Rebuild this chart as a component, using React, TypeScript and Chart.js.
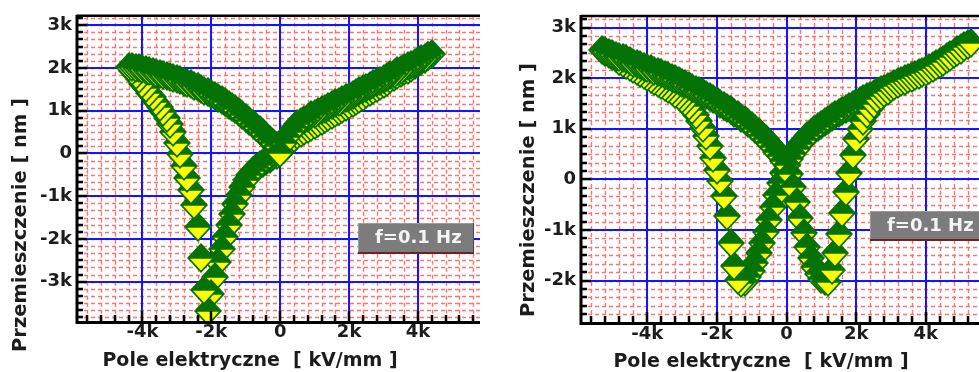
import React, { useEffect, useRef } from 'react';
import { Chart, registerables } from 'chart.js';

Chart.register(...registerables);

// ---------------- DATA (field E and displacement S, both in "k" units) ----------------
// Left panel: one measured loop, in acquisition order (branches A..E)
const L_A_E = [-0.1, -0.2, -0.3, -0.4, -0.5, -0.6, -0.7, -0.8, -0.9, -1.0, -1.1, -1.2, -1.3, -1.4, -1.5, -1.6, -1.7, -1.8, -1.9, -2.0, -2.1];
const L_A_S = [-0.03, -0.07, -0.12, -0.17, -0.22, -0.27, -0.33, -0.41, -0.50, -0.62, -0.79, -0.98, -1.19, -1.42, -1.68, -1.95, -2.24, -2.54, -2.88, -3.28, -3.68];

const L_B_E = [-2.2, -2.3, -2.4, -2.5, -2.6, -2.7, -2.8, -2.9, -3.0, -3.1, -3.2, -3.3, -3.4, -3.5, -3.6, -3.7, -3.8, -3.9, -4.0, -4.1, -4.2, -4.3, -4.4];
const L_B_S = [-3.20, -2.45, -1.72, -1.20, -0.85, -0.57, -0.30, -0.02, 0.25, 0.50, 0.68, 0.83, 0.97, 1.09, 1.20, 1.31, 1.42, 1.52, 1.63, 1.74, 1.84, 1.94, 2.03];

const L_C_E = [-4.3, -4.2, -4.1, -4.0, -3.9, -3.8, -3.7, -3.6, -3.5, -3.4, -3.3, -3.2, -3.1, -3.0, -2.9, -2.8, -2.7, -2.6, -2.5, -2.4, -2.3, -2.2, -2.1, -2.0, -1.9, -1.8, -1.7, -1.6, -1.5, -1.4, -1.3, -1.2, -1.1, -1.0, -0.9, -0.8, -0.7, -0.6, -0.5, -0.4, -0.3, -0.2, -0.1];
const L_C_S = [2.03, 2.01, 1.99, 1.97, 1.95, 1.93, 1.91, 1.88, 1.86, 1.84, 1.81, 1.79, 1.76, 1.74, 1.71, 1.68, 1.65, 1.62, 1.58, 1.55, 1.51, 1.47, 1.43, 1.39, 1.34, 1.30, 1.25, 1.20, 1.14, 1.09, 1.03, 0.97, 0.90, 0.84, 0.77, 0.70, 0.62, 0.55, 0.47, 0.39, 0.31, 0.24, 0.17];

// rising field, lower right branch
const L_D_E = [0.0, 0.1, 0.2, 0.3, 0.4, 0.5, 0.6, 0.7, 0.8, 0.9, 1.0, 1.1, 1.2, 1.3, 1.4, 1.5, 1.6, 1.7, 1.8, 1.9, 2.0, 2.1, 2.2, 2.3, 2.4, 2.5, 2.6, 2.7, 2.8, 2.9, 3.0, 3.1, 3.2, 3.3, 3.4, 3.5, 3.6, 3.7, 3.8, 3.9, 4.0, 4.1, 4.2, 4.3];
const L_D_S = [0.06, 0.11, 0.21, 0.30, 0.37, 0.43, 0.48, 0.53, 0.58, 0.62, 0.67, 0.72, 0.76, 0.81, 0.85, 0.90, 0.94, 0.99, 1.04, 1.09, 1.13, 1.18, 1.23, 1.28, 1.33, 1.38, 1.43, 1.48, 1.53, 1.58, 1.63, 1.68, 1.73, 1.78, 1.83, 1.88, 1.92, 1.96, 2.01, 2.06, 2.11, 2.16, 2.21, 2.27];

// falling field, upper right branch
const L_E_E = [4.4, 4.3, 4.2, 4.1, 4.0, 3.9, 3.8, 3.7, 3.6, 3.5, 3.4, 3.3, 3.2, 3.1, 3.0, 2.9, 2.8, 2.7, 2.6, 2.5, 2.4, 2.3, 2.2, 2.1, 2.0, 1.9, 1.8, 1.7, 1.6, 1.5, 1.4, 1.3, 1.2, 1.1, 1.0, 0.9, 0.8, 0.7, 0.6, 0.5, 0.4, 0.3, 0.2, 0.1, 0.0];
const L_E_S = [2.32, 2.28, 2.24, 2.20, 2.16, 2.12, 2.08, 2.04, 2.00, 1.96, 1.92, 1.87, 1.83, 1.78, 1.74, 1.70, 1.66, 1.62, 1.58, 1.54, 1.50, 1.46, 1.42, 1.37, 1.33, 1.29, 1.25, 1.21, 1.17, 1.13, 1.09, 1.05, 1.01, 0.97, 0.93, 0.89, 0.84, 0.79, 0.74, 0.68, 0.60, 0.50, 0.38, 0.25, 0.02];

// Right panel: one measured loop, starting at the positive field maximum
// falling field, upper right branch
const R_F_E = [5.2, 5.1, 5.0, 4.9, 4.8, 4.7, 4.6, 4.5, 4.4, 4.3, 4.2, 4.1, 4.0, 3.9, 3.8, 3.7, 3.6, 3.5, 3.4, 3.3, 3.2, 3.1, 3.0, 2.9, 2.8, 2.7, 2.6, 2.5, 2.4, 2.3, 2.2, 2.1, 2.0, 1.9, 1.8, 1.7, 1.6, 1.5, 1.4, 1.3, 1.2, 1.1, 1.0, 0.9, 0.8, 0.7, 0.6, 0.5, 0.4, 0.3, 0.2, 0.1, 0.0];
const R_F_S = [2.68, 2.64, 2.59, 2.55, 2.50, 2.45, 2.41, 2.36, 2.32, 2.28, 2.24, 2.20, 2.16, 2.13, 2.10, 2.07, 2.04, 2.01, 1.98, 1.95, 1.92, 1.89, 1.85, 1.82, 1.79, 1.76, 1.72, 1.69, 1.65, 1.62, 1.58, 1.55, 1.51, 1.47, 1.43, 1.39, 1.35, 1.31, 1.27, 1.23, 1.18, 1.13, 1.08, 1.03, 0.97, 0.91, 0.85, 0.78, 0.69, 0.60, 0.50, 0.40, 0.28];

const R_A_E = [-0.1, -0.2, -0.3, -0.4, -0.5, -0.6, -0.7, -0.8, -0.9, -1.0, -1.1, -1.2, -1.3];
const R_A_S = [0.12, -0.07, -0.30, -0.55, -0.80, -1.04, -1.26, -1.46, -1.65, -1.82, -1.94, -2.02, -2.05];

const R_B_E = [-1.4, -1.5, -1.6, -1.7, -1.8, -1.9, -2.0, -2.1, -2.2, -2.3, -2.4, -2.5, -2.6, -2.7, -2.8, -2.9, -3.0, -3.1, -3.2, -3.3, -3.4, -3.5, -3.6, -3.7, -3.8, -3.9, -4.0, -4.1, -4.2, -4.3, -4.4, -4.5, -4.6, -4.7, -4.8, -4.9, -5.0, -5.1, -5.2, -5.3];
const R_B_S = [-1.98, -1.72, -1.25, -0.72, -0.32, -0.03, 0.18, 0.42, 0.66, 0.86, 1.02, 1.15, 1.27, 1.37, 1.45, 1.52, 1.58, 1.64, 1.69, 1.74, 1.78, 1.83, 1.87, 1.91, 1.95, 1.99, 2.03, 2.07, 2.11, 2.15, 2.19, 2.23, 2.27, 2.31, 2.35, 2.39, 2.43, 2.47, 2.51, 2.55];

const R_C_E = [-5.2, -5.1, -5.0, -4.9, -4.8, -4.7, -4.6, -4.5, -4.4, -4.3, -4.2, -4.1, -4.0, -3.9, -3.8, -3.7, -3.6, -3.5, -3.4, -3.3, -3.2, -3.1, -3.0, -2.9, -2.8, -2.7, -2.6, -2.5, -2.4, -2.3, -2.2, -2.1, -2.0, -1.9, -1.8, -1.7, -1.6, -1.5, -1.4, -1.3, -1.2, -1.1, -1.0, -0.9, -0.8, -0.7, -0.6, -0.5, -0.4, -0.3, -0.2, -0.1, 0.0];
const R_C_S = [2.53, 2.50, 2.47, 2.44, 2.42, 2.39, 2.37, 2.34, 2.31, 2.29, 2.26, 2.23, 2.21, 2.18, 2.15, 2.13, 2.10, 2.07, 2.04, 2.01, 1.98, 1.94, 1.91, 1.88, 1.84, 1.81, 1.77, 1.74, 1.70, 1.66, 1.62, 1.58, 1.54, 1.50, 1.46, 1.42, 1.37, 1.32, 1.27, 1.22, 1.17, 1.11, 1.05, 0.99, 0.93, 0.86, 0.79, 0.72, 0.64, 0.55, 0.46, 0.37, 0.28];

const R_D_E = [0.1, 0.2, 0.3, 0.4, 0.5, 0.6, 0.7, 0.8, 0.9, 1.0, 1.1, 1.2];
const R_D_S = [0.10, -0.15, -0.45, -0.76, -1.06, -1.33, -1.55, -1.73, -1.87, -1.96, -2.01, -2.03];

const R_E_E = [1.3, 1.4, 1.5, 1.6, 1.7, 1.8, 1.9, 2.0, 2.1, 2.2, 2.3, 2.4, 2.5, 2.6, 2.7, 2.8, 2.9, 3.0, 3.1, 3.2, 3.3, 3.4, 3.5, 3.6, 3.7, 3.8, 3.9, 4.0, 4.1, 4.2, 4.3, 4.4, 4.5, 4.6, 4.7, 4.8, 4.9, 5.0, 5.1, 5.2, 5.3];
const R_E_S = [-1.80, -1.45, -1.08, -0.66, -0.25, 0.12, 0.48, 0.80, 1.00, 1.16, 1.29, 1.40, 1.50, 1.58, 1.64, 1.70, 1.75, 1.80, 1.84, 1.88, 1.92, 1.95, 1.98, 2.01, 2.04, 2.07, 2.10, 2.13, 2.17, 2.21, 2.25, 2.29, 2.33, 2.38, 2.42, 2.47, 2.52, 2.56, 2.61, 2.65, 2.70];

// Tick labels
const X_TICKS = [-4, -2, 0, 2, 4];
const Y_TICKS_LEFT = [-3, -2, -1, 0, 1, 2, 3];
const Y_TICKS_RIGHT = [-2, -1, 0, 1, 2, 3];

// Texts
const X_TITLE = 'Pole elektryczne  [ kV/mm ]';
const Y_TITLE = 'Przemieszczenie [ nm ]';
const NOTE = 'f=0.1 Hz';

// ---------------- STYLE ----------------
const GREEN = '#047204';
const YELLOW = '#ffff00';
const BLUE = '#1414ff';
const RED_MINOR = 'rgba(255,20,20,0.6)';
const INK = '#1c1c1c';
const FONT = '"DejaVu Sans", "Liberation Sans", sans-serif';

type Pt = { x: number; y: number };
const zip = (es: number[], ss: number[]): Pt[] => es.map((e, i) => ({ x: e, y: ss[i] }));

const LEFT_POINTS: Pt[] = [
  ...zip(L_A_E, L_A_S),
  ...zip(L_B_E, L_B_S),
  ...zip(L_C_E, L_C_S),
  ...zip(L_D_E, L_D_S),
  ...zip(L_E_E, L_E_S),
];
const RIGHT_POINTS: Pt[] = [
  ...zip(R_F_E, R_F_S),
  ...zip(R_A_E, R_A_S),
  ...zip(R_B_E, R_B_S),
  ...zip(R_C_E, R_C_S),
  ...zip(R_D_E, R_D_S),
  ...zip(R_E_E, R_E_S),
];

// Half-filled diamond symbol: green upper half, yellow lower half with a green rim
function makeMarker(): HTMLCanvasElement {
  const c = document.createElement('canvas');
  c.width = 28;
  c.height = 30;
  const g = c.getContext('2d')!;
  const cx = 14, cy = 15, hw = 14, hh = 15;
  const rim = 1.7, topInset = 0.8;
  const L = Math.hypot(hw, hh);
  const off = (rim * L + topInset * hw) / hh;
  const bot = hh - (rim * L) / hw;
  g.fillStyle = GREEN;
  g.beginPath();
  g.moveTo(cx, cy - hh);
  g.lineTo(cx + hw, cy);
  g.lineTo(cx, cy + hh);
  g.lineTo(cx - hw, cy);
  g.closePath();
  g.fill();
  g.fillStyle = YELLOW;
  g.beginPath();
  g.moveTo(cx - hw + off, cy + topInset);
  g.lineTo(cx + hw - off, cy + topInset);
  g.lineTo(cx, cy + bot);
  g.closePath();
  g.fill();
  return c;
}

type PanelCfg = {
  left: number;
  width: number;
  height: number;
  points: Pt[];
  xMin: number; xMax: number; yMin: number; yMax: number;
  yTicks: number[];
  padding: { left: number; top: number; right: number; bottom: number };
  yAxisWidth: number;
  xAxisHeight: number;
  xTickPad: number;
  yTickPad: number;
  yTitle: { x: number; y: number };
  xTitle: { x: number; y: number };
  box: { x: number; y: number; w: number; h: number };
};

const X_MINOR_PER_UNIT = 2.5; // every 0.4k
const Y_MINOR_PER_UNIT = 6;   // every 1/6 k

function decor(cfg: PanelCfg) {
  return {
    id: 'decor',
    beforeDatasetsDraw(chart: any) {
      const { ctx, chartArea: a } = chart;
      const xs = chart.scales.x, ys = chart.scales.y;
      ctx.save();
      ctx.beginPath();
      ctx.rect(a.left, a.top, a.right - a.left, a.bottom - a.top);
      ctx.clip();
      // minor red dashed grid
      ctx.strokeStyle = RED_MINOR;
      ctx.lineWidth = 1.4;
      ctx.setLineDash([4, 3]);
      ctx.beginPath();
      for (let i = Math.ceil(xs.min * X_MINOR_PER_UNIT); i <= Math.floor(xs.max * X_MINOR_PER_UNIT); i++) {
        const p = Math.round(xs.getPixelForValue(i / X_MINOR_PER_UNIT)) + 0.5;
        ctx.moveTo(p, a.top);
        ctx.lineTo(p, a.bottom);
      }
      for (let i = Math.ceil(ys.min * Y_MINOR_PER_UNIT); i <= Math.floor(ys.max * Y_MINOR_PER_UNIT); i++) {
        const p = Math.round(ys.getPixelForValue(i / Y_MINOR_PER_UNIT)) + 0.5;
        ctx.moveTo(a.left, p);
        ctx.lineTo(a.right, p);
      }
      ctx.stroke();
      // major blue grid
      ctx.setLineDash([]);
      ctx.strokeStyle = BLUE;
      ctx.lineWidth = 2;
      ctx.beginPath();
      X_TICKS.forEach((v) => {
        const p = Math.round(xs.getPixelForValue(v));
        ctx.moveTo(p, a.top);
        ctx.lineTo(p, a.bottom);
      });
      cfg.yTicks.forEach((v) => {
        const p = Math.round(ys.getPixelForValue(v));
        ctx.moveTo(a.left, p);
        ctx.lineTo(a.right, p);
      });
      ctx.stroke();
      ctx.restore();
      ctx.imageSmoothingEnabled = false;
    },
    afterDatasetsDraw(chart: any) {
      const { ctx, chartArea: a } = chart;
      ctx.imageSmoothingEnabled = true;
      const xs = chart.scales.x, ys = chart.scales.y;
      ctx.save();
      ctx.strokeStyle = '#000';
      ctx.lineCap = 'butt';
      // ticks pointing inward
      ctx.lineWidth = 2.5;
      ctx.beginPath();
      for (let i = Math.ceil(ys.min * Y_MINOR_PER_UNIT); i <= Math.floor(ys.max * Y_MINOR_PER_UNIT); i++) {
        const p = Math.round(ys.getPixelForValue(i / Y_MINOR_PER_UNIT));
        const len = i % Y_MINOR_PER_UNIT === 0 ? 10 : 6;
        ctx.moveTo(a.left, p);
        ctx.lineTo(a.left + len, p);
      }
      for (let i = Math.ceil(xs.min * X_MINOR_PER_UNIT); i <= Math.floor(xs.max * X_MINOR_PER_UNIT); i++) {
        const p = Math.round(xs.getPixelForValue(i / X_MINOR_PER_UNIT));
        const len = i % 5 === 0 ? 10 : 6;
        ctx.moveTo(p, a.bottom);
        ctx.lineTo(p, a.bottom - len);
      }
      ctx.stroke();
      // axis lines
      ctx.lineWidth = 3;
      ctx.beginPath();
      ctx.moveTo(a.left, a.top - 1);
      ctx.lineTo(a.left, a.bottom + 1.5);
      ctx.lineTo(a.right, a.bottom + 1.5);
      ctx.stroke();
      ctx.lineWidth = 2.5;
      ctx.beginPath();
      ctx.moveTo(a.left, a.top);
      ctx.lineTo(a.right, a.top);
      ctx.stroke();
      ctx.restore();
    },
    afterDraw(chart: any) {
      const { ctx } = chart;
      const xs = chart.scales.x, ys = chart.scales.y;
      ctx.save();
      // note box
      const bx = Math.round(xs.getPixelForValue(cfg.box.x));
      const by = Math.round(ys.getPixelForValue(cfg.box.y));
      const { w, h } = cfg.box;
      ctx.fillStyle = '#7c7c7c';
      ctx.fillRect(bx, by, w, h);
      ctx.fillStyle = '#9a9a9a';
      ctx.fillRect(bx, by, w, 1);
      ctx.fillRect(bx, by, 1, h);
      ctx.fillStyle = '#4a4a4a';
      ctx.fillRect(bx + w - 1, by, 1, h);
      ctx.fillStyle = '#6a2424';
      ctx.fillRect(bx, by + h - 2, w, 2);
      ctx.fillStyle = '#f4f4f4';
      ctx.font = `bold 18px ${FONT}`;
      ctx.textAlign = 'left';
      ctx.textBaseline = 'middle';
      ctx.fillText(NOTE, bx + 17, by + h / 2);
      // axis titles
      ctx.fillStyle = INK;
      ctx.textAlign = 'center';
      ctx.font = `bold 19px ${FONT}`;
      ctx.fillText(X_TITLE, cfg.xTitle.x, cfg.xTitle.y);
      ctx.translate(cfg.yTitle.x, cfg.yTitle.y);
      ctx.rotate(-Math.PI / 2);
      ctx.font = `bold 19.5px ${FONT}`;
      ctx.fillText(Y_TITLE, 0, 0);
      ctx.restore();
    },
  };
}

const fmt = (v: number | string) => {
  const n = Number(v);
  return n === 0 ? '0' : `${n}k`;
};

function Panel({ cfg }: { cfg: PanelCfg }) {
  const ref = useRef<HTMLCanvasElement>(null);
  useEffect(() => {
    const marker = makeMarker();
    const tickFont = { family: FONT, size: 18, weight: 'bold' as const };
    const chart = new Chart(ref.current!, {
      type: 'scatter',
      data: {
        datasets: [
          {
            data: cfg.points,
            pointStyle: marker as any,
            pointRadius: 8,
            showLine: false,
          },
        ],
      },
      options: {
        responsive: false,
        animation: false,
        events: [],
        layout: { padding: cfg.padding },
        plugins: { legend: { display: false }, tooltip: { enabled: false } },
        scales: {
          x: {
            type: 'linear',
            min: cfg.xMin,
            max: cfg.xMax,
            afterBuildTicks: (s: any) => {
              s.ticks = X_TICKS.map((v) => ({ value: v }));
            },
            afterFit: (s: any) => {
              s.height = cfg.xAxisHeight;
            },
            grid: { display: false, drawTicks: false },
            border: { display: false },
            ticks: { font: tickFont, color: INK, padding: cfg.xTickPad, autoSkip: false, maxRotation: 0, callback: fmt },
          },
          y: {
            type: 'linear',
            min: cfg.yMin,
            max: cfg.yMax,
            afterBuildTicks: (s: any) => {
              s.ticks = cfg.yTicks.map((v) => ({ value: v }));
            },
            afterFit: (s: any) => {
              s.width = cfg.yAxisWidth;
            },
            grid: { display: false, drawTicks: false },
            border: { display: false },
            ticks: { font: tickFont, color: INK, padding: cfg.yTickPad, autoSkip: false, callback: fmt },
          },
        },
      } as any,
      plugins: [decor(cfg)],
    });
    return () => chart.destroy();
  }, []);
  return (
    <canvas
      ref={ref}
      width={cfg.width}
      height={cfg.height}
      style={{ position: 'absolute', left: cfg.left, top: 0, width: cfg.width, height: cfg.height }}
    />
  );
}

const LEFT_CFG: PanelCfg = {
  left: 0,
  width: 490,
  height: 372,
  points: LEFT_POINTS,
  xMin: -5.9, xMax: 5.8, yMin: -3.92, yMax: 3.22,
  yTicks: Y_TICKS_LEFT,
  padding: { left: 0, top: 15, right: 10, bottom: 0 },
  yAxisWidth: 77,
  xAxisHeight: 51,
  xTickPad: 1,
  yTickPad: 5,
  yTitle: { x: 21, y: 225 },
  xTitle: { x: 250, y: 361 },
  box: { x: 2.25, y: -1.63, w: 116, h: 31 },
};

const RIGHT_CFG: PanelCfg = {
  left: 490,
  width: 512,
  height: 372,
  points: RIGHT_POINTS,
  xMin: -5.9, xMax: 5.9, yMin: -2.82, yMax: 3.23,
  yTicks: Y_TICKS_RIGHT,
  padding: { left: 0, top: 16, right: 10, bottom: 0 },
  yAxisWidth: 91,
  xAxisHeight: 50,
  xTickPad: 2,
  yTickPad: 5,
  yTitle: { x: 39, y: 190 },
  xTitle: { x: 271, y: 362 },
  box: { x: 2.39, y: -0.63, w: 116, h: 30 },
};

export default function App() {
  return (
    <div
      style={{
        position: 'fixed',
        left: 0,
        top: 0,
        width: 979,
        height: 372,
        overflow: 'hidden',
        background: '#ffffff',
      }}
    >
      <Panel cfg={LEFT_CFG} />
      <Panel cfg={RIGHT_CFG} />
    </div>
  );
}
